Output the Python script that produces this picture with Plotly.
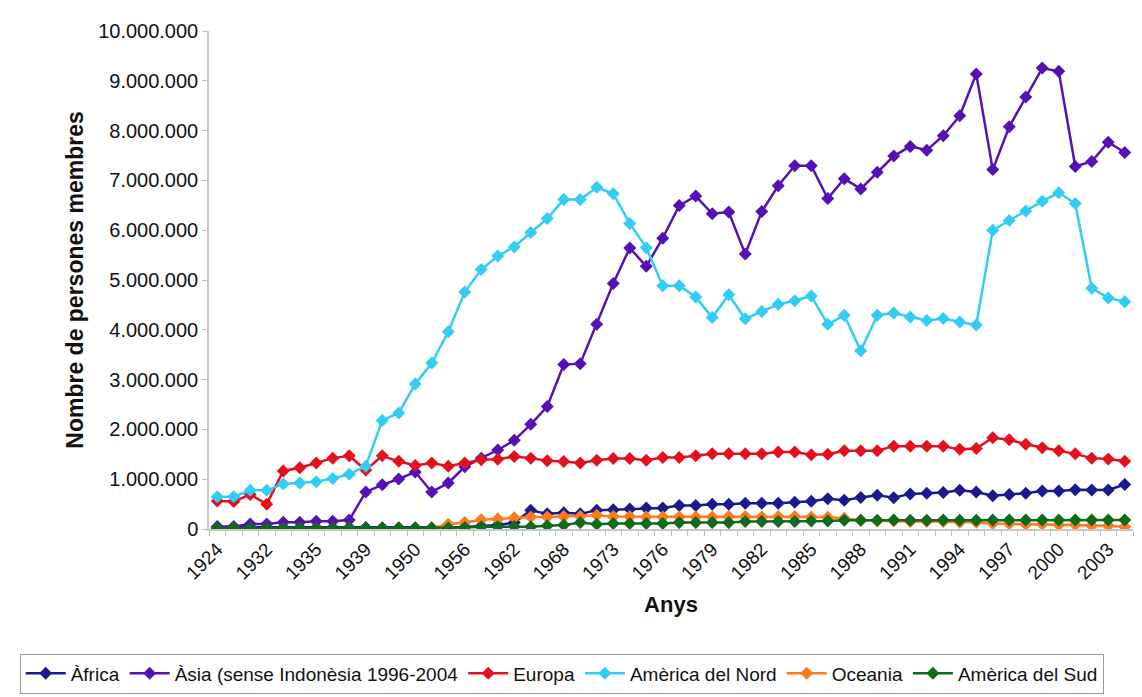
import plotly.graph_objects as go

years = ["1924", "1926", "1929", "1932", "1933", "1934", "1935", "1936", "1937", "1939",
         "1946", "1948", "1950", "1952", "1954", "1956", "1958", "1960", "1962", "1964",
         "1966", "1968", "1970", "1972"] + [str(y) for y in range(1973, 2005)]

africa = [35000, 35000, 35000, 30000, 30000, 30000, 30000, 30000, 30000, 30000,
          25000, 25000, 25000, 25000, 30000, 40000, 60000, 80000, 129000, 375000,
          304000, 324000, 304000, 375000, 388000, 401000, 421000, 421000, 472000, 472000,
          499000, 499000, 518000, 518000, 518000, 537000, 556000, 605000, 576000, 634000,
          680000, 628000, 705000, 718000, 731000, 777000, 744000, 666000, 692000, 718000,
          763000, 763000, 790000, 783000, 783000, 893000]

asia = [50000, 50000, 100000, 100000, 135000, 135000, 155000, 155000, 180000, 744000,
        887000, 1004000, 1146000, 744000, 926000, 1249000, 1423000, 1586000, 1780000, 2103000,
        2460000, 3301000, 3320000, 4110000, 4932000, 5644000, 5275000, 5840000, 6495000, 6686000,
        6330000, 6363000, 5520000, 6375000, 6893000, 7295000, 7295000, 6635000, 7035000, 6829000,
        7165000, 7489000, 7683000, 7606000, 7897000, 8297000, 9139000, 7217000, 8078000, 8673000,
        9256000, 9191000, 7281000, 7379000, 7767000, 7560000]

europa = [563000, 550000, 693000, 499000, 1165000, 1229000, 1326000, 1423000, 1470000, 1184000,
          1470000, 1359000, 1275000, 1326000, 1262000, 1326000, 1392000, 1400000, 1456000, 1423000,
          1372000, 1353000, 1326000, 1379000, 1417000, 1417000, 1379000, 1437000, 1437000, 1470000,
          1509000, 1509000, 1509000, 1509000, 1548000, 1548000, 1489000, 1500000, 1573000, 1573000,
          1573000, 1664000, 1664000, 1664000, 1664000, 1599000, 1618000, 1831000, 1792000, 1703000,
          1631000, 1573000, 1509000, 1423000, 1404000, 1359000]

nord = [647000, 647000, 777000, 777000, 906000, 926000, 951000, 1016000, 1100000, 1262000,
        2181000, 2330000, 2913000, 3333000, 3961000, 4757000, 5210000, 5482000, 5664000, 5955000,
        6233000, 6615000, 6615000, 6860000, 6731000, 6136000, 5650000, 4887000, 4887000, 4660000,
        4245000, 4705000, 4220000, 4369000, 4511000, 4582000, 4680000, 4110000, 4291000, 3579000,
        4291000, 4336000, 4258000, 4188000, 4227000, 4155000, 4097000, 6000000, 6194000, 6388000,
        6582000, 6751000, 6538000, 4835000, 4641000, 4563000]

oceania = [5000, 5000, 5000, 5000, 5000, 5000, 5000, 5000, 5000, 5000,
           5000, 5000, 5000, 20000, 97000, 130000, 185000, 200000, 225000, 239000,
           239000, 252000, 252000, 278000, 252000, 252000, 239000, 239000, 239000, 239000,
           239000, 252000, 252000, 239000, 252000, 252000, 239000, 235000, 214000, 175000,
           162000, 162000, 149000, 149000, 149000, 136000, 136000, 110000, 104000, 97000,
           97000, 84000, 84000, 65000, 65000, 45000]

sud = [15000, 15000, 15000, 15000, 15000, 15000, 15000, 15000, 15000, 15000,
       15000, 15000, 15000, 15000, 20000, 30000, 45000, 45000, 50000, 45000,
       65000, 78000, 129000, 97000, 110000, 110000, 110000, 110000, 129000, 129000,
       129000, 129000, 149000, 149000, 149000, 149000, 162000, 162000, 175000, 175000,
       175000, 180000, 175000, 175000, 180000, 175000, 175000, 180000, 180000, 180000,
       180000, 180000, 180000, 180000, 180000, 180000]

series = [
    ("Àfrica", africa, "#1A1A8C"),
    ("Àsia (sense Indonèsia 1996-2004", asia, "#5511B5"),
    ("Europa", europa, "#E3101E"),
    ("Amèrica del Nord", nord, "#33CCF2"),
    ("Oceania", oceania, "#FF7A1F"),
    ("Amèrica del Sud", sud, "#0E6B1A"),
]

tick_labels = [y if i % 3 == 0 else "" for i, y in enumerate(years)]

fig = go.Figure()
for name, vals, col in series:
    fig.add_trace(go.Scatter(
        x=years, y=vals, name=name, mode="lines+markers",
        line=dict(color=col, width=2.5),
        marker=dict(symbol="diamond", size=10, color=col),
    ))

base_font = "Liberation Sans, Arial, sans-serif"

fig.update_layout(
    width=1142, height=697,
    margin=dict(l=193, r=17, t=20, b=162),
    paper_bgcolor="white", plot_bgcolor="white",
    separators=",.",
    font=dict(family=base_font, size=20, color="#111"),
    showlegend=True,
    legend=dict(
        orientation="h", x=-0.2049, xanchor="left", y=-0.25, yanchor="top",
        bordercolor="#9a9a9a", borderwidth=1,
        font=dict(family=base_font, size=19, color="#111"),
        itemwidth=40, tracegroupgap=0,
    ),
    xaxis=dict(
        type="category",
        tickmode="array", tickvals=years, ticktext=tick_labels,
        tickson="boundaries",
        tickangle=-45,
        ticks="outside", ticklen=5, tickcolor="#bdbdbd", tickwidth=1,
        showline=True, linecolor="#c8c8c8", linewidth=1.5,
        showgrid=False, zeroline=False,
        range=[-0.5, len(years) - 0.5],
        tickfont=dict(size=19),
        title=dict(text="<b>Anys</b>", font=dict(size=22), standoff=14),
    ),
    yaxis=dict(
        range=[0, 10000000], dtick=1000000, tick0=0,
        tickformat=",d",
        ticks="outside", ticklen=5, tickcolor="#bdbdbd", tickwidth=1,
        showline=True, linecolor="#c8c8c8", linewidth=1.5,
        showgrid=False, zeroline=False,
        tickfont=dict(size=20),
        title=dict(text="<b>Nombre de persones membres</b>", font=dict(size=23), standoff=8),
    ),
)

fig.write_html("out.html")
